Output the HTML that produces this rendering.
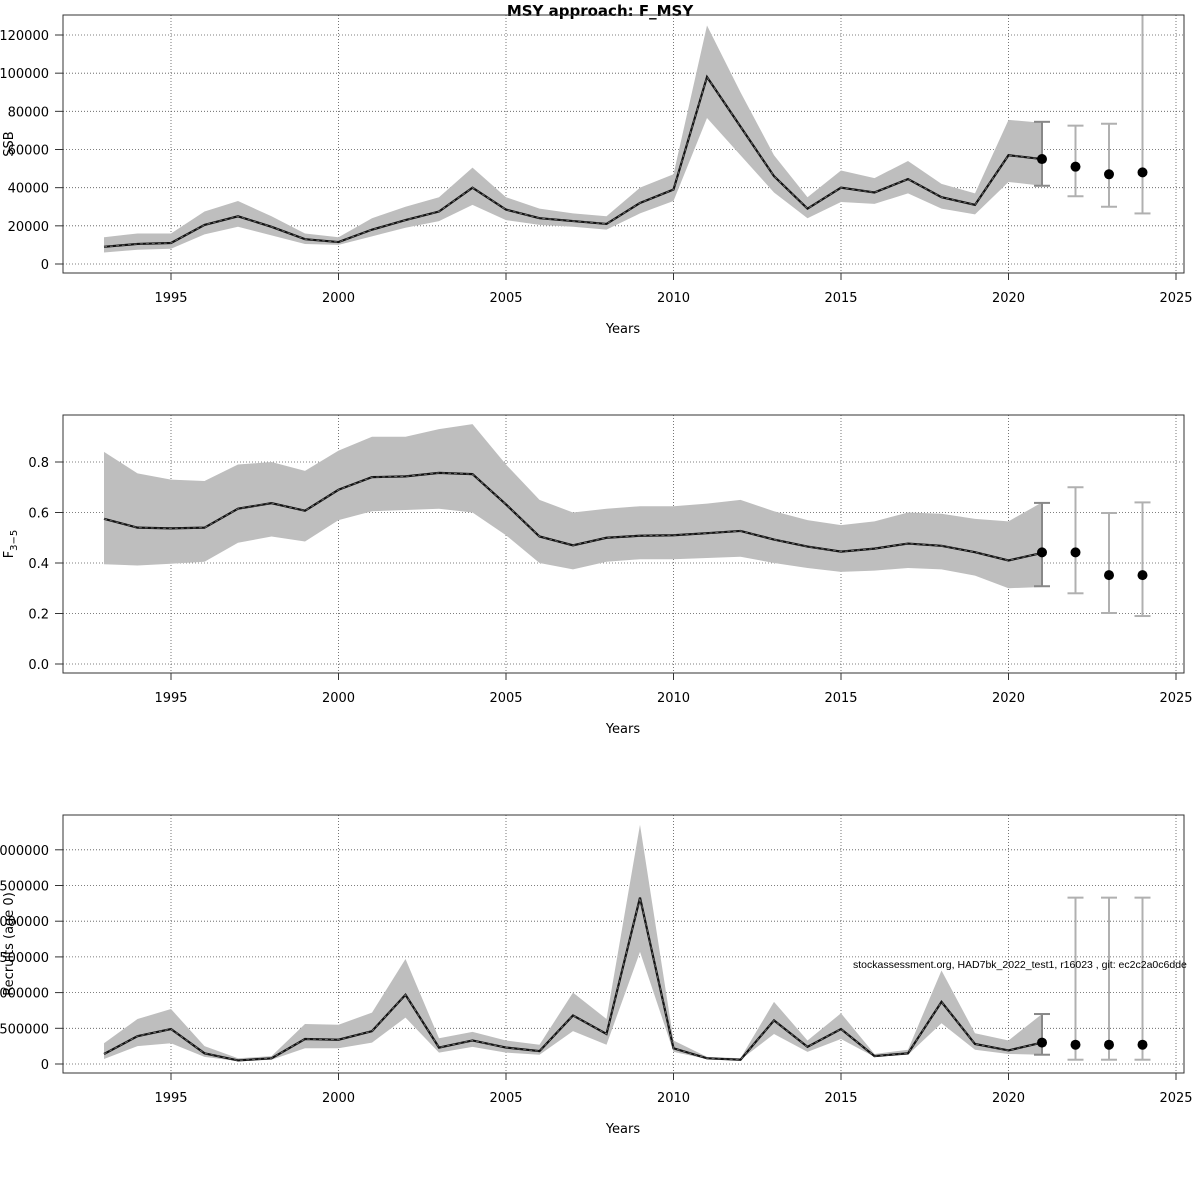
<!DOCTYPE html>
<html><head><meta charset="utf-8">
<style>
html,body{margin:0;padding:0;background:#fff;}
svg{display:block;font-family:"DejaVu Sans","Liberation Sans",sans-serif;}
</style></head>
<body>
<svg id="chart" width="1200" height="1200" viewBox="0 0 1200 1200">
<text x="600" y="16" text-anchor="middle" font-size="15" font-weight="bold">MSY approach: F_MSY</text>
</svg>
<script>
const years = [1993,1994,1995,1996,1997,1998,1999,2000,2001,2002,2003,2004,2005,2006,2007,2008,2009,2010,2011,2012,2013,2014,2015,2016,2017,2018,2019,2020,2021];
const fcYears = [2021,2022,2023,2024];
const xTicks = [1995,2000,2005,2010,2015,2020,2025];

const ssb = [9000,10500,11000,20500,25000,19500,13000,11500,18000,23000,27500,40000,28500,24000,22500,21000,32000,39000,98000,72000,46000,29000,40000,37500,44500,35000,31000,57000,55000];
const ssbHi = [14000,16000,16000,27500,33000,25000,16000,14000,24000,30000,35000,50500,35000,29000,26500,25000,40000,47000,125000,90000,57000,35000,49000,45000,54000,42000,37000,75500,74000];
const ssbLo = [6000,7500,8000,15500,19500,15000,10500,10000,14500,19000,22500,31000,23000,20500,19500,18000,26500,33000,76500,57000,37500,24000,32500,31500,37000,29000,26000,43000,41000];
const ssbFc = [55000,51000,47000,48000];
const ssbFcLo = [41000,35500,30000,26500];
const ssbFcHi = [74500,72500,73500,140000];
const ssbTicks = [0,20000,40000,60000,80000,100000,120000];

const fbar = [.575,.54,.537,.54,.615,.637,.607,.69,.74,.743,.757,.752,.632,.505,.47,.50,.508,.51,.518,.527,.493,.465,.445,.457,.477,.468,.443,.41,.44];
const fbarHi = [.84,.755,.73,.725,.79,.80,.765,.845,.90,.90,.93,.95,.79,.65,.60,.615,.625,.625,.635,.65,.605,.57,.55,.565,.60,.595,.575,.565,.64];
const fbarLo = [.395,.39,.397,.405,.48,.505,.485,.57,.605,.61,.615,.60,.51,.40,.375,.405,.415,.415,.42,.425,.40,.38,.365,.37,.38,.375,.35,.30,.305];
const fFc = [.442,.442,.352,.352];
const fFcLo = [.308,.28,.202,.19];
const fFcHi = [.638,.70,.598,.64];
const fTicks = [0,0.2,0.4,0.6,0.8];

const rec = [140000,390000,490000,150000,50000,80000,350000,340000,460000,970000,230000,330000,230000,180000,680000,420000,2330000,220000,80000,60000,610000,240000,490000,110000,150000,870000,280000,190000,300000];
const recHi = [290000,630000,770000,250000,80000,110000,560000,550000,720000,1470000,360000,450000,330000,270000,1000000,630000,3350000,330000,100000,80000,870000,330000,710000,140000,200000,1310000,430000,330000,700000];
const recLo = [70000,250000,290000,100000,40000,60000,220000,220000,300000,650000,160000,240000,160000,130000,460000,270000,1570000,170000,70000,60000,420000,170000,350000,100000,130000,570000,200000,140000,130000];
const recFc = [300000,270000,270000,270000];
const recFcLo = [130000,60000,60000,60000];
const recFcHi = [700000,2330000,2330000,2330000];
const recTicks = [0,500000,1000000,1500000,2000000,2500000,3000000];

const NS = "http://www.w3.org/2000/svg";
const svg = document.getElementById('chart');
function mk(tag, attrs, parent){const e=document.createElementNS(NS,tag);for(const k in attrs)e.setAttribute(k,attrs[k]);(parent||svg).appendChild(e);return e;}
const xScale = y => 171 + (y-1995)*33.5;

function panel(opt){
  const g = mk('g',{});
  
  
  const top=opt.top, bot=opt.top+258;
  const yS = v => opt.y0 - (v-0)*opt.k;
  xTicks.forEach(t=>{const l=mk('line',{x1:xScale(t),x2:xScale(t),y1:top,y2:bot,stroke:'#555','stroke-width':0.8,'stroke-dasharray':'1,2'},g);
    });
  opt.ticks.forEach(t=>{const l=mk('line',{x1:63,x2:1184,y1:yS(t),y2:yS(t),stroke:'#555','stroke-width':0.8,'stroke-dasharray':'1,2'},g);
    });
  let d='';
  years.forEach((yr,i)=>{d+=(i?'L':'M')+xScale(yr)+','+yS(opt.hi[i]);});
  for(let i=years.length-1;i>=0;i--) d+='L'+xScale(years[i])+','+yS(opt.lo[i]);
  const band=mk('path',{d:d+'Z',fill:'#bebebe',stroke:'none'},g);
  
  
  let ld='';
  years.forEach((yr,i)=>{ld+=(i?'L':'M')+xScale(yr)+','+yS(opt.val[i]);});
  const line=mk('path',{d:ld,fill:'none',stroke:'#111','stroke-width':2.2},g);
  
  
  mk('path',{d:ld,fill:'none',stroke:'#777','stroke-width':0.8,'stroke-dasharray':'3,3'},g);
  fcYears.forEach((yr,i)=>{
    const x=xScale(yr), col=i===0?'#888':'#b0b0b0';
    const eb=mk('g',{},g);
    
    
    const yh=Math.max(yS(opt.fHi[i]),top), yl=yS(opt.fLo[i]);
    mk('line',{x1:x,x2:x,y1:yh,y2:yl,stroke:col,'stroke-width':2},eb);
    if(yS(opt.fHi[i])>=top) mk('line',{x1:x-8,x2:x+8,y1:yh,y2:yh,stroke:col,'stroke-width':2},eb);
    mk('line',{x1:x-8,x2:x+8,y1:yl,y2:yl,stroke:col,'stroke-width':2},eb);
    const c=mk('circle',{cx:x,cy:yS(opt.fc[i]),r:5,fill:'#000'},g);
    
    
  });
  const fr=mk('rect',{x:63,y:top,width:1121,height:258,fill:'none',stroke:'#333','stroke-width':1},g);
  
  
  xTicks.forEach(t=>{mk('line',{x1:xScale(t),x2:xScale(t),y1:bot,y2:bot+7,stroke:'#333'},g);
    const tx=mk('text',{x:xScale(t),y:bot+29,'text-anchor':'middle','font-size':13},g);tx.textContent=t;
    });
  opt.ticks.forEach(t=>{mk('line',{x1:55,x2:63,y1:yS(t),y2:yS(t),stroke:'#333'},g);
    const tx=mk('text',{x:49,y:yS(t)+5,'text-anchor':'end','font-size':13},g);tx.textContent=opt.fmt(t);
    });
  const xl=mk('text',{x:623,y:top+318,'text-anchor':'middle','font-size':13},g);xl.textContent='Years';
  
  const yl=mk('text',{x:0,y:0,'text-anchor':'middle','font-size':13,transform:`translate(13,${top+129}) rotate(-90)`},g);
  if(opt.sub){yl.textContent='F';const ts=mk('tspan',{'font-size':10,dy:4},yl);ts.textContent='3\u22125';}
  else yl.textContent=opt.ylab;
  
}

panel({name:'ssb-panel',top:15,y0:264,k:229/120000,ticks:ssbTicks,fmt:v=>String(v),val:ssb,hi:ssbHi,lo:ssbLo,fc:ssbFc,fLo:ssbFcLo,fHi:ssbFcHi,ylab:'SSB'});
panel({name:'f-panel',top:415,y0:664,k:252.5,ticks:fTicks,fmt:v=>v.toFixed(1),val:fbar,hi:fbarHi,lo:fbarLo,fc:fFc,fLo:fFcLo,fHi:fFcHi,sub:true});
panel({name:'recruits-panel',top:815,y0:1064,k:35.7/500000,ticks:recTicks,fmt:v=>String(v),val:rec,hi:recHi,lo:recLo,fc:recFc,fLo:recFcLo,fHi:recFcHi,ylab:'Recruits (age 0)'});

const note=mk('text',{x:853,y:968,'font-size':10.5,'font-family':'Liberation Sans, sans-serif'});
note.textContent='stockassessment.org, HAD7bk_2022_test1, r16023 , git: ec2c2a0c6dde';


</script>
</body></html>
